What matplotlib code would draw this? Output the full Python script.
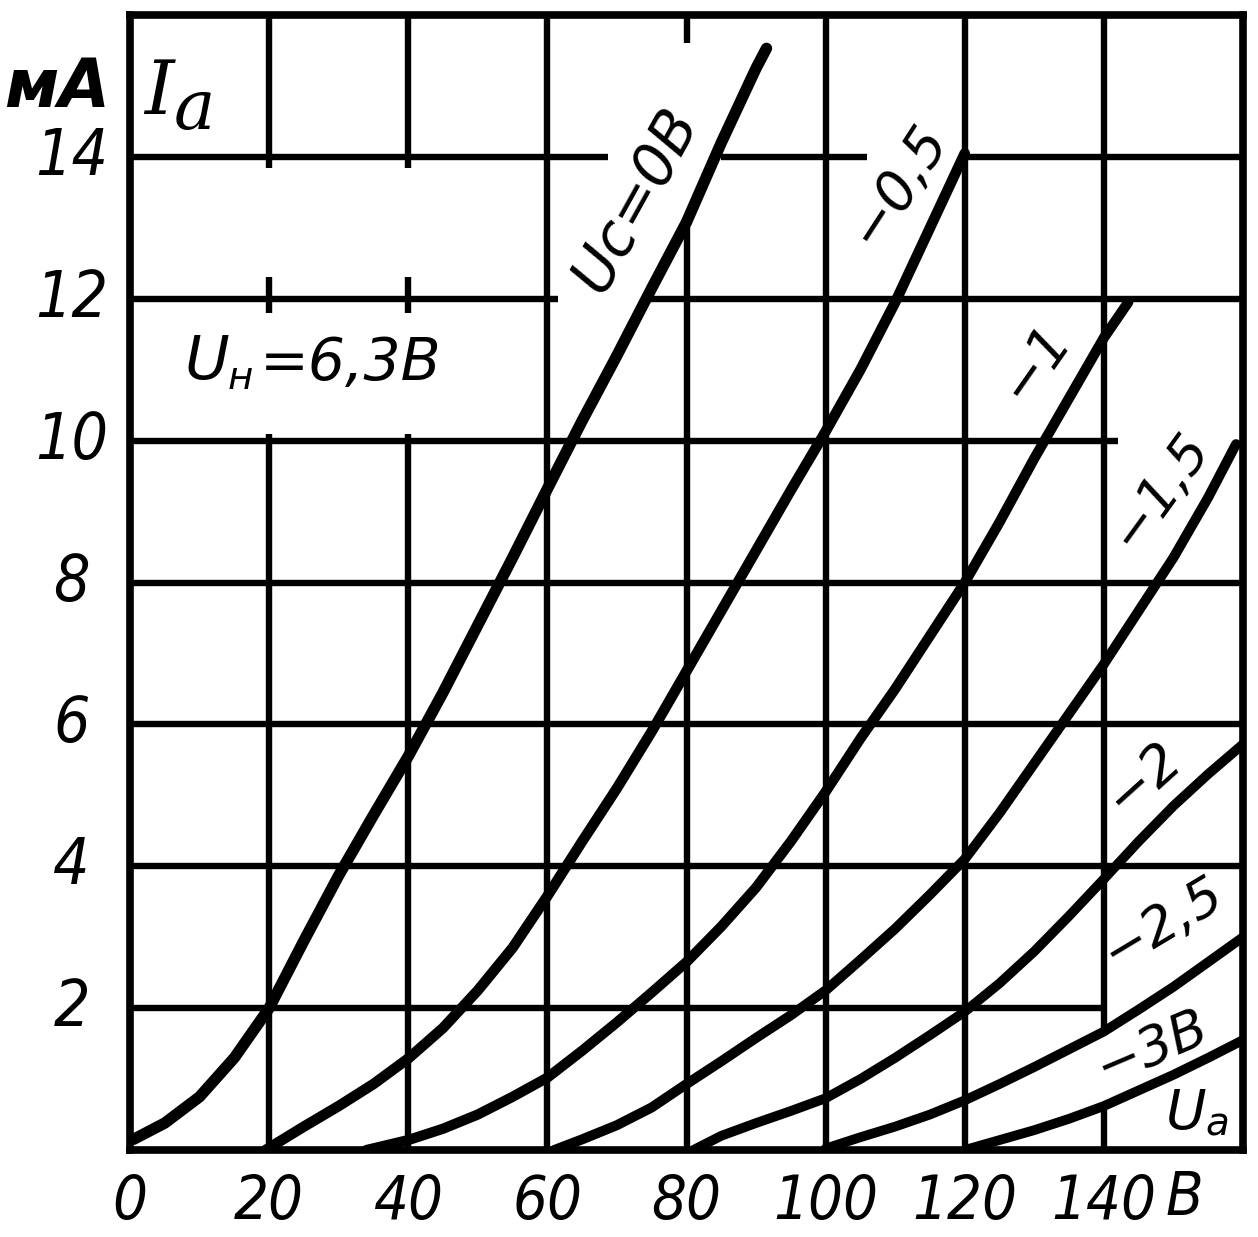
import matplotlib
matplotlib.use("Agg")
import matplotlib.pyplot as plt

# ---------------- data (anode voltage Ua, V ; anode current Ia, mA) ----------------
ua_0 = [0.5, 5, 10, 15, 20, 25, 30, 35, 40, 45, 50, 55, 60, 65, 70, 75, 80, 85, 90, 91.5]
ia_0 = [0.15, 0.38, 0.75, 1.3, 2.0, 2.95, 3.87, 4.72, 5.55, 6.45, 7.4, 8.35, 9.32, 10.28,
        11.2, 12.15, 13.08, 14.2, 15.25, 15.53]

ua_05 = [19.5, 25, 30, 35, 40, 45, 50, 55, 60, 65, 70, 75, 80, 85, 90, 95, 100, 105, 110, 115, 120]
ia_05 = [0.0, 0.33, 0.62, 0.93, 1.29, 1.72, 2.25, 2.85, 3.58, 4.35, 5.1, 5.9, 6.75, 7.6, 8.45,
         9.3, 10.13, 11.0, 11.95, 13.0, 14.05]

ua_1 = [34, 40, 45, 50, 55, 60, 65, 70, 75, 80, 85, 90, 95, 100, 105, 110, 115, 120, 125, 130,
        135, 140, 143.5]
ia_1 = [0.0, 0.14, 0.3, 0.5, 0.75, 1.02, 1.4, 1.8, 2.22, 2.65, 3.15, 3.7, 4.35, 5.05, 5.8, 6.5,
        7.25, 8.0, 8.85, 9.75, 10.6, 11.45, 11.95]

ua_15 = [61, 65, 70, 75, 80, 85, 90, 95, 100, 105, 110, 115, 120, 125, 130, 135, 140, 145, 150,
         155, 159]
ia_15 = [0.0, 0.15, 0.35, 0.6, 0.93, 1.25, 1.58, 1.9, 2.25, 2.68, 3.12, 3.6, 4.1, 4.75, 5.45,
         6.15, 6.85, 7.6, 8.35, 9.2, 9.95]

ua_2 = [81, 85, 90, 95, 100, 105, 110, 115, 120, 125, 130, 135, 140, 145, 150, 155, 160]
ia_2 = [0.0, 0.2, 0.38, 0.55, 0.73, 1.0, 1.3, 1.62, 1.95, 2.35, 2.8, 3.3, 3.82, 4.35, 4.85,
        5.3, 5.72]

ua_25 = [100, 105, 110, 115, 120, 125, 130, 135, 140, 145, 150, 155, 160]
ia_25 = [0.02, 0.18, 0.33, 0.5, 0.7, 0.93, 1.17, 1.42, 1.67, 1.98, 2.3, 2.65, 3.0]

ua_3 = [120, 125, 130, 135, 140, 145, 150, 155, 160]
ia_3 = [0.0, 0.14, 0.28, 0.44, 0.62, 0.84, 1.06, 1.3, 1.55]

x_ticks = [0, 20, 40, 60, 80, 100, 120, 140]
x_tick_labels = ["0", "20", "40", "60", "80", "100", "120", "140"]
y_ticks = [2, 4, 6, 8, 10, 12, 14]
y_tick_labels = ["2", "4", "6", "8", "10", "12", "14"]

curve_labels = ["Uс=0В", "−0,5", "−1", "−1,5", "−2", "−2,5", "−3В"]

# ---------------- figure ----------------
W, H = 1258, 1237
fig = plt.figure(figsize=(W / 100, H / 100), dpi=100)
fig.patch.set_facecolor("white")
ax = fig.add_axes([130 / W, (H - 1150) / H, (1243 - 130) / W, (1150 - 15) / H])
ax.set_xlim(0, 160)
ax.set_ylim(0, 16)

GRID_LW = 4.6
# vertical grid lines (with the gaps of the original drawing)
v_segments = {
    20: [(0, 10.1), (11.8, 12.3), (13.85, 16)],
    40: [(0, 10.1), (11.8, 12.3), (13.85, 16)],
    60: [(0, 16)],
    80: [(0, 13.05), (15.6, 16)],
    100: [(0, 16)],
    120: [(0, 16)],
    140: [(0, 0.6), (1.65, 16)],
}
for xv, segs in v_segments.items():
    for y0, y1 in segs:
        ax.vlines(xv, y0, y1, colors="black", lw=GRID_LW, zorder=1)

h_segments = {
    2: [(0, 140)],
    4: [(0, 160)],
    6: [(0, 160)],
    8: [(0, 160)],
    10: [(0, 142)],
    12: [(0, 61.5), (74.2, 160)],
    14: [(0, 68.7), (84.9, 106), (120, 160)],
}
for yh, segs in h_segments.items():
    for x0, x1 in segs:
        ax.hlines(yh, x0, x1, colors="black", lw=GRID_LW, zorder=1)

for sp in ax.spines.values():
    sp.set_linewidth(5.5)
    sp.set_color("black")

# ---------------- curves ----------------
series = [(ua_0, ia_0, 8.2), (ua_05, ia_05, 7.6), (ua_1, ia_1, 7.4), (ua_15, ia_15, 7.2),
          (ua_2, ia_2, 7.0), (ua_25, ia_25, 7.0), (ua_3, ia_3, 7.0)]
for ua, ia, lw in series:
    ax.plot(ua, ia, color="black", lw=lw, solid_capstyle="round",
            solid_joinstyle="round", zorder=3)

# ---------------- ticks ----------------
TICK_FONT = "DejaVu Sans"
ax.set_xticks(x_ticks)
ax.set_xticklabels(x_tick_labels)
ax.set_yticks(y_ticks)
ax.set_yticklabels(y_tick_labels)
ax.tick_params(axis="both", length=0)
ax.tick_params(axis="x", pad=38)
ax.tick_params(axis="y", pad=42)
for lab in ax.get_xticklabels():
    lab.set_family(TICK_FONT)
    lab.set_style("italic")
    lab.set_stretch("condensed")
    lab.set_fontsize(44)
    lab.set_va("center")
for lab in ax.get_yticklabels():
    lab.set_family(TICK_FONT)
    lab.set_style("italic")
    lab.set_stretch("condensed")
    lab.set_fontsize(46)
    lab.set_ha("center")
    lab.set_va("center")

# unit of the x axis after "140"
ax.text(151.6, -0.68, "В", family=TICK_FONT, style="italic", stretch="condensed",
        fontsize=44, ha="center", va="center", clip_on=False)

# ---------------- axis titles ----------------
ax.text(-10.4, 14.97, "мА", family="DejaVu Sans", style="italic", weight="bold",
        fontsize=48, ha="center", va="center", clip_on=False)
ax.text(4.1, 14.6, "I", family="DejaVu Serif", style="italic", fontsize=54,
        ha="center", va="baseline")
ax.text(9.2, 14.39, "а", family="DejaVu Serif", style="italic", fontsize=50,
        ha="center", va="baseline")

LABEL_FONT = "DejaVu Sans"
# heater voltage note
ax.text(11.1, 10.87, "U", family=LABEL_FONT, style="italic", fontsize=44,
        ha="center", va="baseline")
ax.text(15.9, 10.73, "н", family=LABEL_FONT, style="italic", fontsize=28,
        ha="center", va="baseline")
ax.text(18.6, 10.86, "=6,3В", family=LABEL_FONT, style="italic", fontsize=42,
        ha="left", va="baseline")

# ---------------- curve labels ----------------
label_pos = [(72.8, 13.4, 61, 42), (110.3, 13.6, 57, 40), (130.0, 11.1, 55, 40),
             (148.1, 9.3, 54, 39), (145.6, 5.25, 42, 40), (148.4, 3.2, 31, 39),
             (146.9, 1.45, 23, 39)]
for txt, (lx, ly, rot, fs) in zip(curve_labels, label_pos):
    ax.text(lx, ly, txt, family=LABEL_FONT, style="italic", fontsize=fs,
            rotation=rot, rotation_mode="anchor", ha="center", va="center", zorder=4)

ax.text(151.8, 0.3, "U", family=LABEL_FONT, style="italic", fontsize=40,
        ha="center", va="baseline", zorder=4)
ax.text(156.3, 0.2, "а", family=LABEL_FONT, style="italic", fontsize=28,
        ha="center", va="baseline", zorder=4)

fig.savefig("out.png", dpi=100, facecolor="white")
